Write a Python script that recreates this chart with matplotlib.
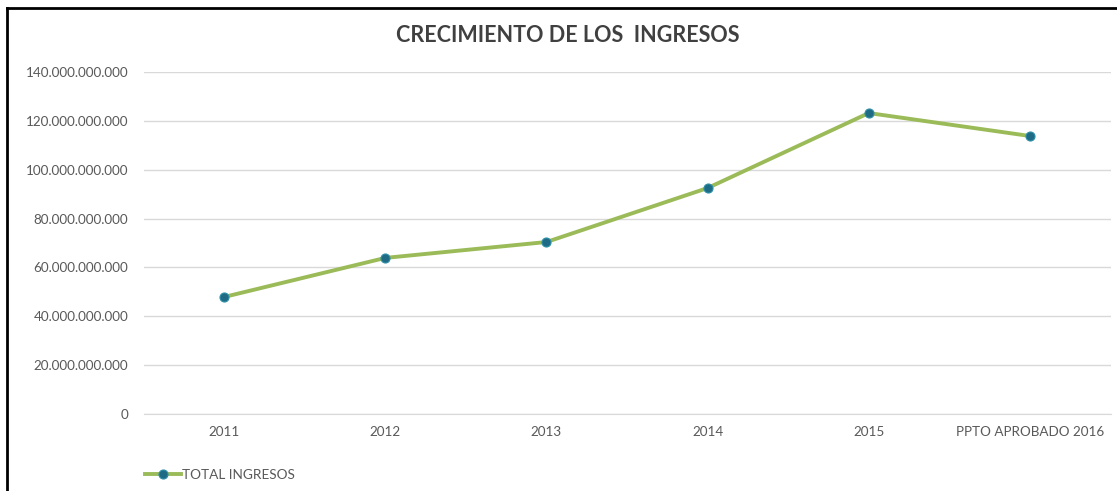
import matplotlib.pyplot as plt
from matplotlib.lines import Line2D
from matplotlib.ticker import FuncFormatter

categorias = ["2011", "2012", "2013", "2014", "2015", "PPTO APROBADO 2016"]
total_ingresos = [47.9e9, 63.9e9, 70.4e9, 92.5e9, 123.2e9, 113.8e9]
yticks = [0, 20e9, 40e9, 60e9, 80e9, 100e9, 120e9, 140e9]

plt.rcParams['font.family'] = ['Lato', 'DejaVu Sans']

W, H = 1117, 491
fig = plt.figure(figsize=(W / 100, H / 100), dpi=100)
ax = fig.add_axes([143.5 / W, 1 - 414 / H, (1110.5 - 143.5) / W, (414 - 72) / H])

x = list(range(len(categorias)))
ax.plot(x, total_ingresos, color='#9bbb59', lw=2.8, marker='o', ms=6.5,
        markerfacecolor='#1f6b85', markeredgecolor='#2f8fa8', markeredgewidth=0.8,
        label='TOTAL INGRESOS', zorder=3)

ax.set_xlim(-0.5, len(categorias) - 0.5)
ax.set_ylim(0, 140e9)
ax.set_xticks(x)
ax.set_xticklabels(categorias)
ax.set_yticks(yticks)
ax.yaxis.set_major_formatter(FuncFormatter(lambda v, p: f"{int(v):,}".replace(",", ".")))
ax.grid(axis='y', color='#d9d9d9', lw=1)
ax.set_axisbelow(True)
for s in ['top', 'right', 'left']:
    ax.spines[s].set_visible(False)
ax.spines['bottom'].set_color('#d9d9d9')
ax.tick_params(axis='both', length=0, colors='#595959', labelsize=9.7)
ax.tick_params(axis='y', pad=11)
ax.tick_params(axis='x', pad=9)

fig.text(568 / W, 1 - 36 / H, "CRECIMIENTO DE LOS  INGRESOS", ha='center', va='center',
         fontsize=15.5, fontweight='bold', color='#404040')

leg = fig.legend(handles=ax.get_lines(), loc='center left',
                 bbox_to_anchor=(140 / W, 1 - 475 / H), frameon=False,
                 fontsize=9.8, handlelength=2.6, handletextpad=0.1, borderaxespad=0)
for t in leg.get_texts():
    t.set_color('#595959')

# outer frame (top and left edges visible)
fig.add_artist(Line2D([7 / W, 7 / W], [0, 1 - 8 / H], color='black', lw=2))
fig.add_artist(Line2D([7 / W, 1], [1 - 8 / H, 1 - 8 / H], color='black', lw=2))

fig.savefig('out.png', dpi=100)
